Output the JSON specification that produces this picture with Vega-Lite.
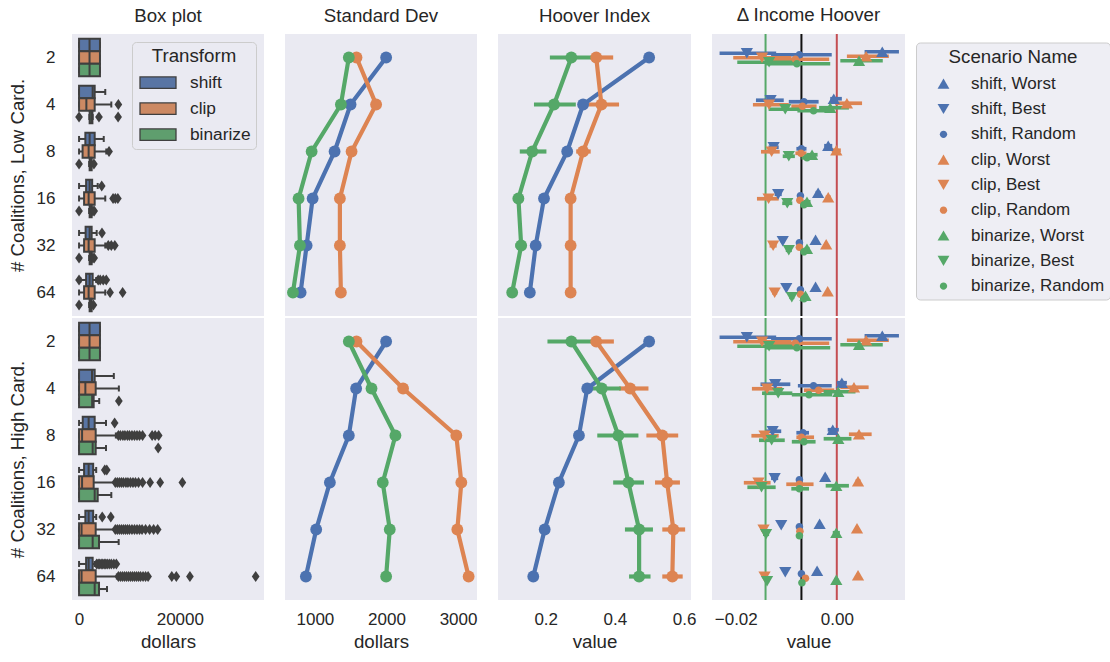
{
"$schema": "https://vega.github.io/schema/vega-lite/v6.json",
"padding": {"left": 8, "top": 6, "right": 0, "bottom": 5},
"config": {
 "font": "Liberation Sans",
 "view": {"fill": "#EAEAF2", "stroke": null},
 "axis": {"domain": false, "ticks": false, "grid": false, "labelFontSize": 17, "titleFontSize": 18.7, "labelColor": "#262626", "titleColor": "#262626", "titleFontWeight": "normal", "labelPadding": 11, "titlePadding": 5},
 "title": {"fontSize": 18.7, "fontWeight": "normal", "color": "#262626", "offset": 8},
 "legend": {"labelFontSize": 17.3, "titleFontSize": 18.7, "titleFontWeight": "normal", "labelColor": "#262626", "titleColor": "#262626"}
},
"datasets": {
 "box": [
  {"card":"Low","coal":2,"t":"shift","lo":0,"q1":0,"med":2080,"q3":4150,"hi":4150},
  {"card":"Low","coal":2,"t":"clip","lo":0,"q1":0,"med":2080,"q3":4150,"hi":4150},
  {"card":"Low","coal":2,"t":"binarize","lo":0,"q1":0,"med":2080,"q3":4150,"hi":4150},
  {"card":"Low","coal":4,"t":"shift","lo":0,"q1":0,"med":2700,"q3":3100,"hi":5200},
  {"card":"Low","coal":4,"t":"clip","lo":0,"q1":0,"med":1450,"q3":3100,"hi":6400},
  {"card":"Low","coal":4,"t":"binarize","lo":2050,"q1":2100,"med":2450,"q3":2650,"hi":2700},
  {"card":"Low","coal":8,"t":"shift","lo":0,"q1":1250,"med":2100,"q3":3100,"hi":4900},
  {"card":"Low","coal":8,"t":"clip","lo":0,"q1":700,"med":1900,"q3":3100,"hi":5400},
  {"card":"Low","coal":8,"t":"binarize","lo":2000,"q1":2100,"med":2300,"q3":2500,"hi":2600},
  {"card":"Low","coal":16,"t":"shift","lo":0,"q1":1400,"med":2100,"q3":2600,"hi":3700},
  {"card":"Low","coal":16,"t":"clip","lo":0,"q1":1000,"med":1900,"q3":3100,"hi":5200},
  {"card":"Low","coal":16,"t":"binarize","lo":2000,"q1":2100,"med":2300,"q3":2500,"hi":2600},
  {"card":"Low","coal":32,"t":"shift","lo":0,"q1":1300,"med":2100,"q3":2500,"hi":3500},
  {"card":"Low","coal":32,"t":"clip","lo":0,"q1":1000,"med":1900,"q3":3100,"hi":5200},
  {"card":"Low","coal":32,"t":"binarize","lo":2000,"q1":2100,"med":2300,"q3":2500,"hi":2600},
  {"card":"Low","coal":64,"t":"shift","lo":250,"q1":1400,"med":2100,"q3":2700,"hi":3400},
  {"card":"Low","coal":64,"t":"clip","lo":0,"q1":1000,"med":1900,"q3":3100,"hi":5200},
  {"card":"Low","coal":64,"t":"binarize","lo":2000,"q1":2100,"med":2300,"q3":2500,"hi":2600},
  {"card":"High","coal":2,"t":"shift","lo":0,"q1":0,"med":2080,"q3":4150,"hi":4150},
  {"card":"High","coal":2,"t":"clip","lo":0,"q1":0,"med":2080,"q3":4150,"hi":4150},
  {"card":"High","coal":2,"t":"binarize","lo":0,"q1":0,"med":2080,"q3":4150,"hi":4150},
  {"card":"High","coal":4,"t":"shift","lo":0,"q1":0,"med":2570,"q3":3100,"hi":6900},
  {"card":"High","coal":4,"t":"clip","lo":0,"q1":0,"med":1250,"q3":3300,"hi":7900},
  {"card":"High","coal":4,"t":"binarize","lo":0,"q1":0,"med":2600,"q3":2900,"hi":4000},
  {"card":"High","coal":8,"t":"shift","lo":0,"q1":730,"med":1900,"q3":3100,"hi":5350},
  {"card":"High","coal":8,"t":"clip","lo":0,"q1":0,"med":600,"q3":3300,"hi":7300},
  {"card":"High","coal":8,"t":"binarize","lo":0,"q1":0,"med":2700,"q3":3300,"hi":5350},
  {"card":"High","coal":16,"t":"shift","lo":0,"q1":1000,"med":1900,"q3":2800,"hi":3400},
  {"card":"High","coal":16,"t":"clip","lo":0,"q1":0,"med":600,"q3":2900,"hi":7200},
  {"card":"High","coal":16,"t":"binarize","lo":0,"q1":0,"med":3100,"q3":3700,"hi":6400},
  {"card":"High","coal":32,"t":"shift","lo":0,"q1":1250,"med":1900,"q3":2800,"hi":3400},
  {"card":"High","coal":32,"t":"clip","lo":0,"q1":0,"med":500,"q3":3300,"hi":7200},
  {"card":"High","coal":32,"t":"binarize","lo":0,"q1":0,"med":2700,"q3":3960,"hi":7860},
  {"card":"High","coal":64,"t":"shift","lo":0,"q1":1400,"med":1900,"q3":2700,"hi":3100},
  {"card":"High","coal":64,"t":"clip","lo":0,"q1":0,"med":500,"q3":3300,"hi":7500},
  {"card":"High","coal":64,"t":"binarize","lo":0,"q1":0,"med":3100,"q3":3960,"hi":5550}
 ],
 "out": [
  {"card":"Low","coal":4,"t":"clip","v":7800},
  {"card":"Low","coal":4,"t":"binarize","v":0},{"card":"Low","coal":4,"t":"binarize","v":3950},{"card":"Low","coal":4,"t":"binarize","v":7750},
  {"card":"Low","coal":8,"t":"clip","v":5950},
  {"card":"Low","coal":8,"t":"binarize","v":0},{"card":"Low","coal":8,"t":"binarize","v":2950},
  {"card":"Low","coal":16,"t":"shift","v":4500},
  {"card":"Low","coal":16,"t":"clip","v":6750},{"card":"Low","coal":16,"t":"clip","v":7200},{"card":"Low","coal":16,"t":"clip","v":7700},
  {"card":"Low","coal":16,"t":"binarize","v":0},{"card":"Low","coal":16,"t":"binarize","v":2750},{"card":"Low","coal":16,"t":"binarize","v":3000},
  {"card":"Low","coal":32,"t":"shift","v":4550},
  {"card":"Low","coal":32,"t":"clip","v":5800},{"card":"Low","coal":32,"t":"clip","v":6400},{"card":"Low","coal":32,"t":"clip","v":7100},
  {"card":"Low","coal":32,"t":"binarize","v":0},{"card":"Low","coal":32,"t":"binarize","v":2750},{"card":"Low","coal":32,"t":"binarize","v":3000},
  {"card":"Low","coal":64,"t":"shift","v":0},{"card":"Low","coal":64,"t":"shift","v":3800},{"card":"Low","coal":64,"t":"shift","v":4200},{"card":"Low","coal":64,"t":"shift","v":4800},{"card":"Low","coal":64,"t":"shift","v":5400},
  {"card":"Low","coal":64,"t":"clip","v":6150},{"card":"Low","coal":64,"t":"clip","v":8650},
  {"card":"Low","coal":64,"t":"binarize","v":0},{"card":"Low","coal":64,"t":"binarize","v":2850},
  {"card":"High","coal":4,"t":"binarize","v":7900},
  {"card":"High","coal":8,"t":"shift","v":7060},
  {"card":"High","coal":8,"t":"clip","v":7800},{"card":"High","coal":8,"t":"clip","v":8200},{"card":"High","coal":8,"t":"clip","v":8700},{"card":"High","coal":8,"t":"clip","v":9100},{"card":"High","coal":8,"t":"clip","v":9600},{"card":"High","coal":8,"t":"clip","v":10000},{"card":"High","coal":8,"t":"clip","v":10500},{"card":"High","coal":8,"t":"clip","v":11000},{"card":"High","coal":8,"t":"clip","v":11500},{"card":"High","coal":8,"t":"clip","v":12000},{"card":"High","coal":8,"t":"clip","v":12600},{"card":"High","coal":8,"t":"clip","v":14500},{"card":"High","coal":8,"t":"clip","v":15100},{"card":"High","coal":8,"t":"clip","v":15800},
  {"card":"High","coal":8,"t":"binarize","v":15700},
  {"card":"High","coal":16,"t":"shift","v":5100},{"card":"High","coal":16,"t":"shift","v":5500},
  {"card":"High","coal":16,"t":"clip","v":7200},{"card":"High","coal":16,"t":"clip","v":7600},{"card":"High","coal":16,"t":"clip","v":8000},{"card":"High","coal":16,"t":"clip","v":8400},{"card":"High","coal":16,"t":"clip","v":8800},{"card":"High","coal":16,"t":"clip","v":9300},{"card":"High","coal":16,"t":"clip","v":9700},{"card":"High","coal":16,"t":"clip","v":10200},{"card":"High","coal":16,"t":"clip","v":10700},{"card":"High","coal":16,"t":"clip","v":11200},{"card":"High","coal":16,"t":"clip","v":11800},{"card":"High","coal":16,"t":"clip","v":12600},{"card":"High","coal":16,"t":"clip","v":14100},{"card":"High","coal":16,"t":"clip","v":16100},{"card":"High","coal":16,"t":"clip","v":20500},
  {"card":"High","coal":32,"t":"shift","v":4600},{"card":"High","coal":32,"t":"shift","v":6300},
  {"card":"High","coal":32,"t":"clip","v":7200},{"card":"High","coal":32,"t":"clip","v":7600},{"card":"High","coal":32,"t":"clip","v":8000},{"card":"High","coal":32,"t":"clip","v":8400},{"card":"High","coal":32,"t":"clip","v":8800},{"card":"High","coal":32,"t":"clip","v":9200},{"card":"High","coal":32,"t":"clip","v":9600},{"card":"High","coal":32,"t":"clip","v":10000},{"card":"High","coal":32,"t":"clip","v":10500},{"card":"High","coal":32,"t":"clip","v":11000},{"card":"High","coal":32,"t":"clip","v":11500},{"card":"High","coal":32,"t":"clip","v":12000},{"card":"High","coal":32,"t":"clip","v":12500},{"card":"High","coal":32,"t":"clip","v":13200},{"card":"High","coal":32,"t":"clip","v":14000},{"card":"High","coal":32,"t":"clip","v":14800},{"card":"High","coal":32,"t":"clip","v":15600},
  {"card":"High","coal":64,"t":"shift","v":3500},{"card":"High","coal":64,"t":"shift","v":3800},{"card":"High","coal":64,"t":"shift","v":4100},{"card":"High","coal":64,"t":"shift","v":4400},{"card":"High","coal":64,"t":"shift","v":4700},{"card":"High","coal":64,"t":"shift","v":5000},{"card":"High","coal":64,"t":"shift","v":5300},{"card":"High","coal":64,"t":"shift","v":5600},{"card":"High","coal":64,"t":"shift","v":6000},{"card":"High","coal":64,"t":"shift","v":6400},{"card":"High","coal":64,"t":"shift","v":6900},{"card":"High","coal":64,"t":"shift","v":7400},
  {"card":"High","coal":64,"t":"clip","v":7800},{"card":"High","coal":64,"t":"clip","v":8200},{"card":"High","coal":64,"t":"clip","v":8600},{"card":"High","coal":64,"t":"clip","v":9000},{"card":"High","coal":64,"t":"clip","v":9400},{"card":"High","coal":64,"t":"clip","v":9800},{"card":"High","coal":64,"t":"clip","v":10200},{"card":"High","coal":64,"t":"clip","v":10600},{"card":"High","coal":64,"t":"clip","v":11000},{"card":"High","coal":64,"t":"clip","v":11400},{"card":"High","coal":64,"t":"clip","v":11800},{"card":"High","coal":64,"t":"clip","v":12200},{"card":"High","coal":64,"t":"clip","v":12700},{"card":"High","coal":64,"t":"clip","v":13200},{"card":"High","coal":64,"t":"clip","v":13700},{"card":"High","coal":64,"t":"clip","v":18400},{"card":"High","coal":64,"t":"clip","v":19300},{"card":"High","coal":64,"t":"clip","v":22000},{"card":"High","coal":64,"t":"clip","v":35050}
 ],
 "sd": [
  {"card":"Low","coal":2,"t":"shift","v":1995},{"card":"Low","coal":4,"t":"shift","v":1498},{"card":"Low","coal":8,"t":"shift","v":1275},{"card":"Low","coal":16,"t":"shift","v":968},{"card":"Low","coal":32,"t":"shift","v":884},{"card":"Low","coal":64,"t":"shift","v":800},
  {"card":"Low","coal":2,"t":"clip","v":1581},{"card":"Low","coal":4,"t":"clip","v":1855},{"card":"Low","coal":8,"t":"clip","v":1512},{"card":"Low","coal":16,"t":"clip","v":1349},{"card":"Low","coal":32,"t":"clip","v":1349},{"card":"Low","coal":64,"t":"clip","v":1363},
  {"card":"Low","coal":2,"t":"binarize","v":1474},{"card":"Low","coal":4,"t":"binarize","v":1363},{"card":"Low","coal":8,"t":"binarize","v":954},{"card":"Low","coal":16,"t":"binarize","v":772},{"card":"Low","coal":32,"t":"binarize","v":791},{"card":"Low","coal":64,"t":"binarize","v":693},
  {"card":"High","coal":2,"t":"shift","v":1995},{"card":"High","coal":4,"t":"shift","v":1576},{"card":"High","coal":8,"t":"shift","v":1474},{"card":"High","coal":16,"t":"shift","v":1209},{"card":"High","coal":32,"t":"shift","v":1018},{"card":"High","coal":64,"t":"shift","v":874},
  {"card":"High","coal":2,"t":"clip","v":1581},{"card":"High","coal":4,"t":"clip","v":2232},{"card":"High","coal":8,"t":"clip","v":2976},{"card":"High","coal":16,"t":"clip","v":3046},{"card":"High","coal":32,"t":"clip","v":2990},{"card":"High","coal":64,"t":"clip","v":3148},
  {"card":"High","coal":2,"t":"binarize","v":1474},{"card":"High","coal":4,"t":"binarize","v":1791},{"card":"High","coal":8,"t":"binarize","v":2125},{"card":"High","coal":16,"t":"binarize","v":1948},{"card":"High","coal":32,"t":"binarize","v":2046},{"card":"High","coal":64,"t":"binarize","v":1995}
 ],
 "hv": [
  {"card":"Low","coal":2,"t":"shift","v":0.499,"lo":0.495,"hi":0.503},{"card":"Low","coal":4,"t":"shift","v":0.308,"lo":0.300,"hi":0.316},{"card":"Low","coal":8,"t":"shift","v":0.262,"lo":0.255,"hi":0.269},{"card":"Low","coal":16,"t":"shift","v":0.195,"lo":0.190,"hi":0.200},{"card":"Low","coal":32,"t":"shift","v":0.171,"lo":0.167,"hi":0.175},{"card":"Low","coal":64,"t":"shift","v":0.154,"lo":0.150,"hi":0.158},
  {"card":"Low","coal":2,"t":"clip","v":0.346,"lo":0.330,"hi":0.395},{"card":"Low","coal":4,"t":"clip","v":0.361,"lo":0.314,"hi":0.412},{"card":"Low","coal":8,"t":"clip","v":0.308,"lo":0.288,"hi":0.330},{"card":"Low","coal":16,"t":"clip","v":0.272,"lo":0.262,"hi":0.287},{"card":"Low","coal":32,"t":"clip","v":0.272,"lo":0.263,"hi":0.284},{"card":"Low","coal":64,"t":"clip","v":0.272,"lo":0.266,"hi":0.278},
  {"card":"Low","coal":2,"t":"binarize","v":0.274,"lo":0.212,"hi":0.345},{"card":"Low","coal":4,"t":"binarize","v":0.224,"lo":0.166,"hi":0.287},{"card":"Low","coal":8,"t":"binarize","v":0.161,"lo":0.125,"hi":0.202},{"card":"Low","coal":16,"t":"binarize","v":0.121,"lo":0.105,"hi":0.137},{"card":"Low","coal":32,"t":"binarize","v":0.129,"lo":0.112,"hi":0.142},{"card":"Low","coal":64,"t":"binarize","v":0.103,"lo":0.098,"hi":0.108},
  {"card":"High","coal":2,"t":"shift","v":0.499,"lo":0.495,"hi":0.503},{"card":"High","coal":4,"t":"shift","v":0.320,"lo":0.310,"hi":0.330},{"card":"High","coal":8,"t":"shift","v":0.296,"lo":0.285,"hi":0.305},{"card":"High","coal":16,"t":"shift","v":0.238,"lo":0.233,"hi":0.243},{"card":"High","coal":32,"t":"shift","v":0.197,"lo":0.193,"hi":0.201},{"card":"High","coal":64,"t":"shift","v":0.164,"lo":0.160,"hi":0.168},
  {"card":"High","coal":2,"t":"clip","v":0.346,"lo":0.330,"hi":0.397},{"card":"High","coal":4,"t":"clip","v":0.444,"lo":0.412,"hi":0.497},{"card":"High","coal":8,"t":"clip","v":0.537,"lo":0.491,"hi":0.583},{"card":"High","coal":16,"t":"clip","v":0.551,"lo":0.516,"hi":0.588},{"card":"High","coal":32,"t":"clip","v":0.569,"lo":0.537,"hi":0.603},{"card":"High","coal":64,"t":"clip","v":0.566,"lo":0.537,"hi":0.596},
  {"card":"High","coal":2,"t":"binarize","v":0.274,"lo":0.205,"hi":0.335},{"card":"High","coal":4,"t":"binarize","v":0.362,"lo":0.311,"hi":0.417},{"card":"High","coal":8,"t":"binarize","v":0.410,"lo":0.349,"hi":0.468},{"card":"High","coal":16,"t":"binarize","v":0.439,"lo":0.395,"hi":0.484},{"card":"High","coal":32,"t":"binarize","v":0.470,"lo":0.429,"hi":0.510},{"card":"High","coal":64,"t":"binarize","v":0.470,"lo":0.441,"hi":0.503}
 ],
 "refs": [
  {"name":"binarize mean","v":-0.0141},{"name":"overall mean","v":-0.0070},{"name":"zero","v":0.0}
 ],
 "dl": [
  {"card":"Low","coal":2,"scen":"shift, Worst","v":0.0090,"lo":0.0055,"hi":0.0123},
  {"card":"Low","coal":2,"scen":"shift, Best","v":-0.0178,"lo":-0.0232,"hi":-0.0120},
  {"card":"Low","coal":2,"scen":"shift, Random","v":-0.0074,"lo":-0.0130,"hi":-0.0010},
  {"card":"Low","coal":2,"scen":"clip, Worst","v":0.0058,"lo":0.0020,"hi":0.0103},
  {"card":"Low","coal":2,"scen":"clip, Best","v":-0.0148,"lo":-0.0205,"hi":-0.0090},
  {"card":"Low","coal":2,"scen":"clip, Random","v":-0.0082,"lo":-0.0140,"hi":-0.0015},
  {"card":"Low","coal":2,"scen":"binarize, Worst","v":0.0044,"lo":0.0007,"hi":0.0091},
  {"card":"Low","coal":2,"scen":"binarize, Best","v":-0.0134,"lo":-0.0197,"hi":-0.0075},
  {"card":"Low","coal":2,"scen":"binarize, Random","v":-0.0079,"lo":-0.0140,"hi":-0.0013},
  {"card":"Low","coal":4,"scen":"shift, Worst","v":-0.0006,"lo":-0.0013,"hi":0.0010},
  {"card":"Low","coal":4,"scen":"shift, Best","v":-0.0131,"lo":-0.0160,"hi":-0.0105},
  {"card":"Low","coal":4,"scen":"shift, Random","v":-0.0065,"lo":-0.0095,"hi":-0.0036},
  {"card":"Low","coal":4,"scen":"clip, Worst","v":0.0020,"lo":-0.0003,"hi":0.0050},
  {"card":"Low","coal":4,"scen":"clip, Best","v":-0.0134,"lo":-0.0166,"hi":-0.0095},
  {"card":"Low","coal":4,"scen":"clip, Random","v":-0.0068,"lo":-0.0090,"hi":-0.0040},
  {"card":"Low","coal":4,"scen":"binarize, Worst","v":-0.0013,"lo":-0.0035,"hi":0.0024},
  {"card":"Low","coal":4,"scen":"binarize, Best","v":-0.0102,"lo":-0.0135,"hi":-0.0070},
  {"card":"Low","coal":4,"scen":"binarize, Random","v":-0.0046,"lo":-0.0078,"hi":-0.0015},
  {"card":"Low","coal":8,"scen":"shift, Worst","v":-0.0017,"lo":-0.0025,"hi":-0.0009},
  {"card":"Low","coal":8,"scen":"shift, Best","v":-0.0125,"lo":-0.0135,"hi":-0.0115},
  {"card":"Low","coal":8,"scen":"shift, Random","v":-0.0070,"lo":-0.0080,"hi":-0.0060},
  {"card":"Low","coal":8,"scen":"clip, Worst","v":-0.0001,"lo":-0.0010,"hi":0.0008},
  {"card":"Low","coal":8,"scen":"clip, Best","v":-0.0129,"lo":-0.0150,"hi":-0.0113},
  {"card":"Low","coal":8,"scen":"clip, Random","v":-0.0071,"lo":-0.0082,"hi":-0.0060},
  {"card":"Low","coal":8,"scen":"binarize, Worst","v":-0.0049,"lo":-0.0060,"hi":-0.0038},
  {"card":"Low","coal":8,"scen":"binarize, Best","v":-0.0095,"lo":-0.0107,"hi":-0.0083},
  {"card":"Low","coal":8,"scen":"binarize, Random","v":-0.0059,"lo":-0.0070,"hi":-0.0048},
  {"card":"Low","coal":16,"scen":"shift, Worst","v":-0.0037,"lo":-0.0042,"hi":-0.0032},
  {"card":"Low","coal":16,"scen":"shift, Best","v":-0.0116,"lo":-0.0123,"hi":-0.0109},
  {"card":"Low","coal":16,"scen":"shift, Random","v":-0.0072,"lo":-0.0077,"hi":-0.0067},
  {"card":"Low","coal":16,"scen":"clip, Worst","v":-0.0017,"lo":-0.0022,"hi":-0.0012},
  {"card":"Low","coal":16,"scen":"clip, Best","v":-0.0135,"lo":-0.0158,"hi":-0.0115},
  {"card":"Low","coal":16,"scen":"clip, Random","v":-0.0073,"lo":-0.0079,"hi":-0.0067},
  {"card":"Low","coal":16,"scen":"binarize, Worst","v":-0.0059,"lo":-0.0066,"hi":-0.0052},
  {"card":"Low","coal":16,"scen":"binarize, Best","v":-0.0098,"lo":-0.0108,"hi":-0.0088},
  {"card":"Low","coal":16,"scen":"binarize, Random","v":-0.0065,"lo":-0.0072,"hi":-0.0058},
  {"card":"Low","coal":32,"scen":"shift, Worst","v":-0.0042,"lo":-0.0045,"hi":-0.0039},
  {"card":"Low","coal":32,"scen":"shift, Best","v":-0.0107,"lo":-0.0111,"hi":-0.0103},
  {"card":"Low","coal":32,"scen":"shift, Random","v":-0.0074,"lo":-0.0077,"hi":-0.0071},
  {"card":"Low","coal":32,"scen":"clip, Worst","v":-0.0021,"lo":-0.0024,"hi":-0.0018},
  {"card":"Low","coal":32,"scen":"clip, Best","v":-0.0126,"lo":-0.0133,"hi":-0.0119},
  {"card":"Low","coal":32,"scen":"clip, Random","v":-0.0074,"lo":-0.0078,"hi":-0.0070},
  {"card":"Low","coal":32,"scen":"binarize, Worst","v":-0.0059,"lo":-0.0064,"hi":-0.0054},
  {"card":"Low","coal":32,"scen":"binarize, Best","v":-0.0095,"lo":-0.0101,"hi":-0.0089},
  {"card":"Low","coal":32,"scen":"binarize, Random","v":-0.0065,"lo":-0.0069,"hi":-0.0061},
  {"card":"Low","coal":64,"scen":"shift, Worst","v":-0.0042,"lo":-0.0044,"hi":-0.0040},
  {"card":"Low","coal":64,"scen":"shift, Best","v":-0.0100,"lo":-0.0103,"hi":-0.0097},
  {"card":"Low","coal":64,"scen":"shift, Random","v":-0.0072,"lo":-0.0074,"hi":-0.0070},
  {"card":"Low","coal":64,"scen":"clip, Worst","v":-0.0018,"lo":-0.0020,"hi":-0.0016},
  {"card":"Low","coal":64,"scen":"clip, Best","v":-0.0123,"lo":-0.0128,"hi":-0.0118},
  {"card":"Low","coal":64,"scen":"clip, Random","v":-0.0072,"lo":-0.0075,"hi":-0.0069},
  {"card":"Low","coal":64,"scen":"binarize, Worst","v":-0.0062,"lo":-0.0066,"hi":-0.0058},
  {"card":"Low","coal":64,"scen":"binarize, Best","v":-0.0089,"lo":-0.0094,"hi":-0.0084},
  {"card":"Low","coal":64,"scen":"binarize, Random","v":-0.0065,"lo":-0.0068,"hi":-0.0062},
  {"card":"High","coal":2,"scen":"shift, Worst","v":0.0090,"lo":0.0055,"hi":0.0123},
  {"card":"High","coal":2,"scen":"shift, Best","v":-0.0178,"lo":-0.0232,"hi":-0.0120},
  {"card":"High","coal":2,"scen":"shift, Random","v":-0.0074,"lo":-0.0130,"hi":-0.0010},
  {"card":"High","coal":2,"scen":"clip, Worst","v":0.0058,"lo":0.0020,"hi":0.0103},
  {"card":"High","coal":2,"scen":"clip, Best","v":-0.0148,"lo":-0.0205,"hi":-0.0090},
  {"card":"High","coal":2,"scen":"clip, Random","v":-0.0082,"lo":-0.0140,"hi":-0.0015},
  {"card":"High","coal":2,"scen":"binarize, Worst","v":0.0044,"lo":0.0007,"hi":0.0091},
  {"card":"High","coal":2,"scen":"binarize, Best","v":-0.0134,"lo":-0.0197,"hi":-0.0075},
  {"card":"High","coal":2,"scen":"binarize, Random","v":-0.0079,"lo":-0.0140,"hi":-0.0013},
  {"card":"High","coal":4,"scen":"shift, Worst","v":0.0010,"lo":0.0000,"hi":0.0020},
  {"card":"High","coal":4,"scen":"shift, Best","v":-0.0122,"lo":-0.0151,"hi":-0.0092},
  {"card":"High","coal":4,"scen":"shift, Random","v":-0.0046,"lo":-0.0077,"hi":-0.0010},
  {"card":"High","coal":4,"scen":"clip, Worst","v":0.0034,"lo":0.0007,"hi":0.0063},
  {"card":"High","coal":4,"scen":"clip, Best","v":-0.0138,"lo":-0.0168,"hi":-0.0108},
  {"card":"High","coal":4,"scen":"clip, Random","v":-0.0036,"lo":-0.0065,"hi":-0.0005},
  {"card":"High","coal":4,"scen":"binarize, Worst","v":0.0003,"lo":-0.0026,"hi":0.0037},
  {"card":"High","coal":4,"scen":"binarize, Best","v":-0.0116,"lo":-0.0148,"hi":-0.0088},
  {"card":"High","coal":4,"scen":"binarize, Random","v":-0.0055,"lo":-0.0089,"hi":-0.0009},
  {"card":"High","coal":8,"scen":"shift, Worst","v":-0.0008,"lo":-0.0018,"hi":0.0004},
  {"card":"High","coal":8,"scen":"shift, Best","v":-0.0127,"lo":-0.0140,"hi":-0.0110},
  {"card":"High","coal":8,"scen":"shift, Random","v":-0.0067,"lo":-0.0080,"hi":-0.0055},
  {"card":"High","coal":8,"scen":"clip, Worst","v":0.0044,"lo":0.0024,"hi":0.0069},
  {"card":"High","coal":8,"scen":"clip, Best","v":-0.0143,"lo":-0.0169,"hi":-0.0115},
  {"card":"High","coal":8,"scen":"clip, Random","v":-0.0070,"lo":-0.0080,"hi":-0.0045},
  {"card":"High","coal":8,"scen":"binarize, Worst","v":0.0003,"lo":-0.0026,"hi":0.0029},
  {"card":"High","coal":8,"scen":"binarize, Best","v":-0.0129,"lo":-0.0154,"hi":-0.0103},
  {"card":"High","coal":8,"scen":"binarize, Random","v":-0.0065,"lo":-0.0089,"hi":-0.0042},
  {"card":"High","coal":16,"scen":"shift, Worst","v":-0.0023,"lo":-0.0027,"hi":-0.0019},
  {"card":"High","coal":16,"scen":"shift, Best","v":-0.0123,"lo":-0.0130,"hi":-0.0116},
  {"card":"High","coal":16,"scen":"shift, Random","v":-0.0074,"lo":-0.0079,"hi":-0.0069},
  {"card":"High","coal":16,"scen":"clip, Worst","v":0.0042,"lo":0.0037,"hi":0.0047},
  {"card":"High","coal":16,"scen":"clip, Best","v":-0.0155,"lo":-0.0184,"hi":-0.0131},
  {"card":"High","coal":16,"scen":"clip, Random","v":-0.0074,"lo":-0.0100,"hi":-0.0046},
  {"card":"High","coal":16,"scen":"binarize, Worst","v":-0.0001,"lo":-0.0022,"hi":0.0024},
  {"card":"High","coal":16,"scen":"binarize, Best","v":-0.0149,"lo":-0.0177,"hi":-0.0121},
  {"card":"High","coal":16,"scen":"binarize, Random","v":-0.0074,"lo":-0.0090,"hi":-0.0055},
  {"card":"High","coal":32,"scen":"shift, Worst","v":-0.0034,"lo":-0.0037,"hi":-0.0031},
  {"card":"High","coal":32,"scen":"shift, Best","v":-0.0110,"lo":-0.0114,"hi":-0.0106},
  {"card":"High","coal":32,"scen":"shift, Random","v":-0.0074,"lo":-0.0077,"hi":-0.0071},
  {"card":"High","coal":32,"scen":"clip, Worst","v":0.0040,"lo":0.0036,"hi":0.0044},
  {"card":"High","coal":32,"scen":"clip, Best","v":-0.0145,"lo":-0.0150,"hi":-0.0140},
  {"card":"High","coal":32,"scen":"clip, Random","v":-0.0073,"lo":-0.0078,"hi":-0.0068},
  {"card":"High","coal":32,"scen":"binarize, Worst","v":-0.0001,"lo":-0.0008,"hi":0.0006},
  {"card":"High","coal":32,"scen":"binarize, Best","v":-0.0140,"lo":-0.0146,"hi":-0.0134},
  {"card":"High","coal":32,"scen":"binarize, Random","v":-0.0074,"lo":-0.0078,"hi":-0.0070},
  {"card":"High","coal":64,"scen":"shift, Worst","v":-0.0039,"lo":-0.0042,"hi":-0.0036},
  {"card":"High","coal":64,"scen":"shift, Best","v":-0.0102,"lo":-0.0105,"hi":-0.0099},
  {"card":"High","coal":64,"scen":"shift, Random","v":-0.0070,"lo":-0.0073,"hi":-0.0067},
  {"card":"High","coal":64,"scen":"clip, Worst","v":0.0042,"lo":0.0039,"hi":0.0045},
  {"card":"High","coal":64,"scen":"clip, Best","v":-0.0143,"lo":-0.0147,"hi":-0.0139},
  {"card":"High","coal":64,"scen":"clip, Random","v":-0.0062,"lo":-0.0066,"hi":-0.0058},
  {"card":"High","coal":64,"scen":"binarize, Worst","v":-0.0001,"lo":-0.0005,"hi":0.0003},
  {"card":"High","coal":64,"scen":"binarize, Best","v":-0.0138,"lo":-0.0142,"hi":-0.0134},
  {"card":"High","coal":64,"scen":"binarize, Random","v":-0.0069,"lo":-0.0072,"hi":-0.0066}
 ]
},
"columns": 4,
"spacing": {"row": 2, "column": 21},
"bounds": "flush",
"resolve": {"scale": {"color": "independent", "shape": "independent", "stroke": "independent", "x": "independent", "y": "independent", "yOffset": "independent"}, "legend": {"color": "independent", "shape": "independent", "stroke": "independent"}},
"concat": [
 {
  "width": 192, "height": 282, "title": "Box plot",
  "layer": [
   {"data": {"name": "box"}, "transform": [{"filter": "datum.card === 'Low'"}],
    "mark": {"type": "rule", "color": "#3F3F3F", "strokeWidth": 2},
    "encoding": {"x": {"field": "lo", "type": "quantitative", "scale": {"domain": [-1400, 36700], "nice": false, "zero": false}, "axis": null}, "x2": {"field": "hi"},
     "y": {"field": "coal", "type": "ordinal", "scale": {"type": "band", "domain": [2,4,8,16,32,64], "paddingInner": 0, "paddingOuter": 0}, "axis": {"title": "# Coalitions, Low Card.", "labelPadding": 17, "titlePadding": 9}},
     "yOffset": {"field": "t", "type": "nominal", "scale": {"domain": ["shift","clip","binarize"], "paddingInner": 0, "paddingOuter": 0.375}}}},
   {"data": {"name": "box"}, "transform": [{"filter": "datum.card === 'Low'"}],
    "mark": {"type": "tick", "color": "#3F3F3F", "thickness": 2, "size": 6, "opacity": 1},
    "encoding": {"x": {"field": "lo", "type": "quantitative"},
     "y": {"field": "coal", "type": "ordinal", "axis": {"title": "# Coalitions, Low Card.", "labelPadding": 17, "titlePadding": 9}},
     "yOffset": {"field": "t", "type": "nominal"}}},
   {"data": {"name": "box"}, "transform": [{"filter": "datum.card === 'Low'"}],
    "mark": {"type": "tick", "color": "#3F3F3F", "thickness": 2, "size": 6, "opacity": 1},
    "encoding": {"x": {"field": "hi", "type": "quantitative"},
     "y": {"field": "coal", "type": "ordinal", "axis": {"title": "# Coalitions, Low Card.", "labelPadding": 17, "titlePadding": 9}},
     "yOffset": {"field": "t", "type": "nominal"}}},
   {"data": {"name": "box"}, "transform": [{"filter": "datum.card === 'Low'"}],
    "mark": {"type": "bar", "stroke": "#3F3F3F", "strokeWidth": 2, "opacity": 1},
    "encoding": {"x": {"field": "q1", "type": "quantitative"}, "x2": {"field": "q3"},
     "y": {"field": "coal", "type": "ordinal", "axis": {"title": "# Coalitions, Low Card.", "labelPadding": 17, "titlePadding": 9}},
     "yOffset": {"field": "t", "type": "nominal"},
     "color": {"field": "t", "type": "nominal", "title": "Transform", "scale": {"domain": ["shift","clip","binarize"], "range": ["#5975A4","#CC8963","#5F9E6E"]},
      "legend": {"orient": "top-right", "offset": 8, "padding": 5, "symbolOffset": 11, "symbolType": "M-2,-0.64H2V0.64H-2Z", "symbolSize": 324, "symbolStrokeColor": "#3F3F3F", "symbolStrokeWidth": 1.3, "symbolOpacity": 1, "labelOffset": 22, "rowPadding": 7, "titlePadding": 7, "titleAnchor": "middle", "fillColor": "#EAEAF2", "strokeColor": "#CCCCCC", "cornerRadius": 4}}}},
   {"data": {"name": "box"}, "transform": [{"filter": "datum.card === 'Low'"}],
    "mark": {"type": "tick", "color": "#3F3F3F", "thickness": 2, "size": 12.5, "opacity": 1},
    "encoding": {"x": {"field": "med", "type": "quantitative"},
     "y": {"field": "coal", "type": "ordinal", "axis": {"title": "# Coalitions, Low Card.", "labelPadding": 17, "titlePadding": 9}},
     "yOffset": {"field": "t", "type": "nominal"}}},
   {"data": {"name": "out"}, "transform": [{"filter": "datum.card === 'Low'"}],
    "mark": {"type": "point", "shape": "M0,-1L0.7,0L0,1L-0.7,0Z", "filled": true, "color": "#3F3F3F", "size": 121, "opacity": 1},
    "encoding": {"x": {"field": "v", "type": "quantitative"},
     "y": {"field": "coal", "type": "ordinal", "axis": {"title": "# Coalitions, Low Card.", "labelPadding": 17, "titlePadding": 9}},
     "yOffset": {"field": "t", "type": "nominal"}}}
  ]
 },
 {
  "width": 192, "height": 282, "title": "Standard Dev",
  "data": {"name": "sd"}, "transform": [{"filter": "datum.card === 'Low'"}],
  "encoding": {
   "y": {"field": "coal", "type": "ordinal", "scale": {"type": "band", "domain": [2,4,8,16,32,64], "paddingInner": 0, "paddingOuter": 0}, "axis": null},
   "x": {"field": "v", "type": "quantitative", "scale": {"domain": [582, 3265], "nice": false, "zero": false}, "axis": null},
   "color": {"field": "t", "type": "nominal", "scale": {"domain": ["shift","clip","binarize"], "range": ["#4C72B0","#DD8452","#55A868"]}, "legend": null}
  },
  "layer": [
   {"mark": {"type": "line", "strokeWidth": 4.2}, "encoding": {"order": {"field": "coal", "type": "quantitative"}}},
   {"mark": {"type": "point", "filled": true, "size": 140, "opacity": 1}}
  ]
 },
 {
  "width": 193, "height": 282, "title": "Hoover Index",
  "data": {"name": "hv"}, "transform": [{"filter": "datum.card === 'Low'"}],
  "encoding": {
   "y": {"field": "coal", "type": "ordinal", "scale": {"type": "band", "domain": [2,4,8,16,32,64], "paddingInner": 0, "paddingOuter": 0}, "axis": null},
   "color": {"field": "t", "type": "nominal", "scale": {"domain": ["shift","clip","binarize"], "range": ["#4C72B0","#DD8452","#55A868"]}, "legend": null}
  },
  "layer": [
   {"mark": {"type": "rule", "strokeWidth": 4.2}, "encoding": {"x": {"field": "lo", "type": "quantitative", "scale": {"domain": [0.062, 0.62], "nice": false, "zero": false}, "axis": null}, "x2": {"field": "hi"}}},
   {"mark": {"type": "line", "strokeWidth": 4.2}, "encoding": {"x": {"field": "v", "type": "quantitative"}, "order": {"field": "coal", "type": "quantitative"}}},
   {"mark": {"type": "point", "filled": true, "size": 140, "opacity": 1}, "encoding": {"x": {"field": "v", "type": "quantitative"}}}
  ]
 },
 {
  "width": 193, "height": 282, "title": "Δ Income Hoover",
  "layer": [
   {"data": {"name": "refs"}, "transform": [{"filter": "datum.name === 'binarize mean'"}], "mark": {"type": "rule", "strokeWidth": 2, "color": "#55A868"},
    "encoding": {"x": {"field": "v", "type": "quantitative", "scale": {"domain": [-0.0247, 0.0135], "nice": false, "zero": false}, "axis": null}}},
   {"data": {"name": "refs"}, "transform": [{"filter": "datum.name === 'overall mean'"}], "mark": {"type": "rule", "strokeWidth": 2, "color": "#111111"},
    "encoding": {"x": {"field": "v", "type": "quantitative"}}},
   {"data": {"name": "refs"}, "transform": [{"filter": "datum.name === 'zero'"}], "mark": {"type": "rule", "strokeWidth": 2, "color": "#C44E52"},
    "encoding": {"x": {"field": "v", "type": "quantitative"}}},
   {"data": {"name": "dl"}, "transform": [{"filter": "datum.card === 'Low'"}],
    "mark": {"type": "rule", "strokeWidth": 3.7},
    "encoding": {"x": {"field": "lo", "type": "quantitative"}, "x2": {"field": "hi"},
     "y": {"field": "coal", "type": "ordinal", "scale": {"type": "band", "domain": [2,4,8,16,32,64], "paddingInner": 0, "paddingOuter": 0}, "axis": null},
     "yOffset": {"field": "scen", "type": "nominal", "scale": {"domain": ["shift, Worst","shift, Best","shift, Random","clip, Worst","clip, Best","clip, Random","binarize, Worst","binarize, Best","binarize, Random"], "paddingInner": 0, "range": [17, 30.5]}},
     "stroke": {"field": "scen", "type": "nominal", "scale": {"domain": ["binarize, Random","binarize, Best","binarize, Worst","clip, Random","clip, Best","clip, Worst","shift, Random","shift, Best","shift, Worst"], "range": ["#55A868","#55A868","#55A868","#DD8452","#DD8452","#DD8452","#4C72B0","#4C72B0","#4C72B0"]}, "legend": null}}},
   {"data": {"name": "dl"}, "transform": [{"filter": "datum.card === 'Low'"}],
    "mark": {"type": "point", "filled": true, "size": 150, "opacity": 1},
    "encoding": {"x": {"field": "v", "type": "quantitative"},
     "y": {"field": "coal", "type": "ordinal", "axis": null},
     "yOffset": {"field": "scen", "type": "nominal"},
     "color": {"field": "scen", "type": "nominal", "title": "Scenario Name",
      "scale": {"domain": ["shift, Worst","shift, Best","shift, Random","clip, Worst","clip, Best","clip, Random","binarize, Worst","binarize, Best","binarize, Random"], "range": ["#4C72B0","#4C72B0","#4C72B0","#DD8452","#DD8452","#DD8452","#55A868","#55A868","#55A868"]},
      "legend": {"orient": "none", "legendX": 204, "legendY": 8.5, "direction": "vertical", "padding": 5, "symbolOffset": 14, "labelOffset": 19, "rowPadding": 7.3, "titlePadding": 9, "titleAnchor": "middle", "symbolSize": 140, "symbolStrokeWidth": 0, "fillColor": "#EEEEF4", "strokeColor": "#CCCCCC", "cornerRadius": 4, "labelLimit": 300, "labelFontSize": 17}},
     "shape": {"field": "scen", "type": "nominal", "title": "Scenario Name", "scale": {"domain": ["shift, Worst","shift, Best","shift, Random","clip, Worst","clip, Best","clip, Random","binarize, Worst","binarize, Best","binarize, Random"], "range": ["triangle-up","triangle-down","M0.62,0A0.62,0.62,0,1,1,-0.62,0A0.62,0.62,0,1,1,0.62,0Z","triangle-up","triangle-down","M0.62,0A0.62,0.62,0,1,1,-0.62,0A0.62,0.62,0,1,1,0.62,0Z","triangle-up","triangle-down","M0.62,0A0.62,0.62,0,1,1,-0.62,0A0.62,0.62,0,1,1,0.62,0Z"]},
      "legend": {"orient": "none", "legendX": 204, "legendY": 8.5, "direction": "vertical", "padding": 5, "symbolOffset": 14, "labelOffset": 19, "rowPadding": 7.3, "titlePadding": 9, "titleAnchor": "middle", "symbolSize": 140, "symbolStrokeWidth": 0, "fillColor": "#EEEEF4", "strokeColor": "#CCCCCC", "cornerRadius": 4, "labelLimit": 300, "labelFontSize": 17}}}}
  ]
 },
 {
  "width": 192, "height": 282,
  "layer": [
   {"data": {"name": "box"}, "transform": [{"filter": "datum.card === 'High'"}],
    "mark": {"type": "rule", "color": "#3F3F3F", "strokeWidth": 2},
    "encoding": {"x": {"field": "lo", "type": "quantitative", "title": "dollars", "scale": {"domain": [-1400, 36700], "nice": false, "zero": false}, "axis": {"values": [0, 20000], "format": "d"}}, "x2": {"field": "hi"},
     "y": {"field": "coal", "type": "ordinal", "scale": {"type": "band", "domain": [2,4,8,16,32,64], "paddingInner": 0, "paddingOuter": 0}, "axis": {"title": "# Coalitions, High Card.", "labelPadding": 17, "titlePadding": 9}},
     "yOffset": {"field": "t", "type": "nominal", "scale": {"domain": ["shift","clip","binarize"], "paddingInner": 0, "paddingOuter": 0.375}}}},
   {"data": {"name": "box"}, "transform": [{"filter": "datum.card === 'High'"}],
    "mark": {"type": "tick", "color": "#3F3F3F", "thickness": 2, "size": 6, "opacity": 1},
    "encoding": {"x": {"field": "lo", "type": "quantitative", "title": "dollars"},
     "y": {"field": "coal", "type": "ordinal", "axis": {"title": "# Coalitions, High Card.", "labelPadding": 17, "titlePadding": 9}},
     "yOffset": {"field": "t", "type": "nominal"}}},
   {"data": {"name": "box"}, "transform": [{"filter": "datum.card === 'High'"}],
    "mark": {"type": "tick", "color": "#3F3F3F", "thickness": 2, "size": 6, "opacity": 1},
    "encoding": {"x": {"field": "hi", "type": "quantitative", "title": "dollars"},
     "y": {"field": "coal", "type": "ordinal", "axis": {"title": "# Coalitions, High Card.", "labelPadding": 17, "titlePadding": 9}},
     "yOffset": {"field": "t", "type": "nominal"}}},
   {"data": {"name": "box"}, "transform": [{"filter": "datum.card === 'High'"}],
    "mark": {"type": "bar", "stroke": "#3F3F3F", "strokeWidth": 2, "opacity": 1},
    "encoding": {"x": {"field": "q1", "type": "quantitative", "title": "dollars"}, "x2": {"field": "q3"},
     "y": {"field": "coal", "type": "ordinal", "axis": {"title": "# Coalitions, High Card.", "labelPadding": 17, "titlePadding": 9}},
     "yOffset": {"field": "t", "type": "nominal"},
     "color": {"field": "t", "type": "nominal", "scale": {"domain": ["shift","clip","binarize"], "range": ["#5975A4","#CC8963","#5F9E6E"]}, "legend": null}}},
   {"data": {"name": "box"}, "transform": [{"filter": "datum.card === 'High'"}],
    "mark": {"type": "tick", "color": "#3F3F3F", "thickness": 2, "size": 12.5, "opacity": 1},
    "encoding": {"x": {"field": "med", "type": "quantitative", "title": "dollars"},
     "y": {"field": "coal", "type": "ordinal", "axis": {"title": "# Coalitions, High Card.", "labelPadding": 17, "titlePadding": 9}},
     "yOffset": {"field": "t", "type": "nominal"}}},
   {"data": {"name": "out"}, "transform": [{"filter": "datum.card === 'High'"}],
    "mark": {"type": "point", "shape": "M0,-1L0.7,0L0,1L-0.7,0Z", "filled": true, "color": "#3F3F3F", "size": 121, "opacity": 1},
    "encoding": {"x": {"field": "v", "type": "quantitative", "title": "dollars"},
     "y": {"field": "coal", "type": "ordinal", "axis": {"title": "# Coalitions, High Card.", "labelPadding": 17, "titlePadding": 9}},
     "yOffset": {"field": "t", "type": "nominal"}}}
  ]
 },
 {
  "width": 192, "height": 282,
  "data": {"name": "sd"}, "transform": [{"filter": "datum.card === 'High'"}],
  "encoding": {
   "y": {"field": "coal", "type": "ordinal", "scale": {"type": "band", "domain": [2,4,8,16,32,64], "paddingInner": 0, "paddingOuter": 0}, "axis": null},
   "x": {"field": "v", "type": "quantitative", "title": "dollars", "scale": {"domain": [582, 3265], "nice": false, "zero": false}, "axis": {"values": [1000, 2000, 3000], "format": "d"}},
   "color": {"field": "t", "type": "nominal", "scale": {"domain": ["shift","clip","binarize"], "range": ["#4C72B0","#DD8452","#55A868"]}, "legend": null}
  },
  "layer": [
   {"mark": {"type": "line", "strokeWidth": 4.2}, "encoding": {"order": {"field": "coal", "type": "quantitative"}}},
   {"mark": {"type": "point", "filled": true, "size": 140, "opacity": 1}}
  ]
 },
 {
  "width": 193, "height": 282,
  "data": {"name": "hv"}, "transform": [{"filter": "datum.card === 'High'"}],
  "encoding": {
   "y": {"field": "coal", "type": "ordinal", "scale": {"type": "band", "domain": [2,4,8,16,32,64], "paddingInner": 0, "paddingOuter": 0}, "axis": null},
   "color": {"field": "t", "type": "nominal", "scale": {"domain": ["shift","clip","binarize"], "range": ["#4C72B0","#DD8452","#55A868"]}, "legend": null}
  },
  "layer": [
   {"mark": {"type": "rule", "strokeWidth": 4.2}, "encoding": {"x": {"field": "lo", "type": "quantitative", "title": "value", "scale": {"domain": [0.062, 0.62], "nice": false, "zero": false}, "axis": {"values": [0.2, 0.4, 0.6], "format": ".1f"}}, "x2": {"field": "hi"}}},
   {"mark": {"type": "line", "strokeWidth": 4.2}, "encoding": {"x": {"field": "v", "type": "quantitative", "title": "value"}, "order": {"field": "coal", "type": "quantitative"}}},
   {"mark": {"type": "point", "filled": true, "size": 140, "opacity": 1}, "encoding": {"x": {"field": "v", "type": "quantitative", "title": "value"}}}
  ]
 },
 {
  "width": 193, "height": 282,
  "layer": [
   {"data": {"name": "refs"}, "transform": [{"filter": "datum.name === 'binarize mean'"}], "mark": {"type": "rule", "strokeWidth": 2, "color": "#55A868"},
    "encoding": {"x": {"field": "v", "type": "quantitative", "title": "value", "scale": {"domain": [-0.0247, 0.0135], "nice": false, "zero": false}, "axis": {"values": [-0.02, 0.0], "format": ".2f"}}}},
   {"data": {"name": "refs"}, "transform": [{"filter": "datum.name === 'overall mean'"}], "mark": {"type": "rule", "strokeWidth": 2, "color": "#111111"},
    "encoding": {"x": {"field": "v", "type": "quantitative", "title": "value"}}},
   {"data": {"name": "refs"}, "transform": [{"filter": "datum.name === 'zero'"}], "mark": {"type": "rule", "strokeWidth": 2, "color": "#C44E52"},
    "encoding": {"x": {"field": "v", "type": "quantitative", "title": "value"}}},
   {"data": {"name": "dl"}, "transform": [{"filter": "datum.card === 'High'"}],
    "mark": {"type": "rule", "strokeWidth": 3.7},
    "encoding": {"x": {"field": "lo", "type": "quantitative", "title": "value"}, "x2": {"field": "hi"},
     "y": {"field": "coal", "type": "ordinal", "scale": {"type": "band", "domain": [2,4,8,16,32,64], "paddingInner": 0, "paddingOuter": 0}, "axis": null},
     "yOffset": {"field": "scen", "type": "nominal", "scale": {"domain": ["shift, Worst","shift, Best","shift, Random","clip, Worst","clip, Best","clip, Random","binarize, Worst","binarize, Best","binarize, Random"], "paddingInner": 0, "range": [17, 30.5]}},
     "stroke": {"field": "scen", "type": "nominal", "scale": {"domain": ["binarize, Random","binarize, Best","binarize, Worst","clip, Random","clip, Best","clip, Worst","shift, Random","shift, Best","shift, Worst"], "range": ["#55A868","#55A868","#55A868","#DD8452","#DD8452","#DD8452","#4C72B0","#4C72B0","#4C72B0"]}, "legend": null}}},
   {"data": {"name": "dl"}, "transform": [{"filter": "datum.card === 'High'"}],
    "mark": {"type": "point", "filled": true, "size": 150, "opacity": 1},
    "encoding": {"x": {"field": "v", "type": "quantitative", "title": "value"},
     "y": {"field": "coal", "type": "ordinal", "axis": null},
     "yOffset": {"field": "scen", "type": "nominal"},
     "color": {"field": "scen", "type": "nominal", "scale": {"domain": ["shift, Worst","shift, Best","shift, Random","clip, Worst","clip, Best","clip, Random","binarize, Worst","binarize, Best","binarize, Random"], "range": ["#4C72B0","#4C72B0","#4C72B0","#DD8452","#DD8452","#DD8452","#55A868","#55A868","#55A868"]}, "legend": null},
     "shape": {"field": "scen", "type": "nominal", "scale": {"domain": ["shift, Worst","shift, Best","shift, Random","clip, Worst","clip, Best","clip, Random","binarize, Worst","binarize, Best","binarize, Random"], "range": ["triangle-up","triangle-down","M0.62,0A0.62,0.62,0,1,1,-0.62,0A0.62,0.62,0,1,1,0.62,0Z","triangle-up","triangle-down","M0.62,0A0.62,0.62,0,1,1,-0.62,0A0.62,0.62,0,1,1,0.62,0Z","triangle-up","triangle-down","M0.62,0A0.62,0.62,0,1,1,-0.62,0A0.62,0.62,0,1,1,0.62,0Z"]}, "legend": null}}}
  ]
 }
]
}
